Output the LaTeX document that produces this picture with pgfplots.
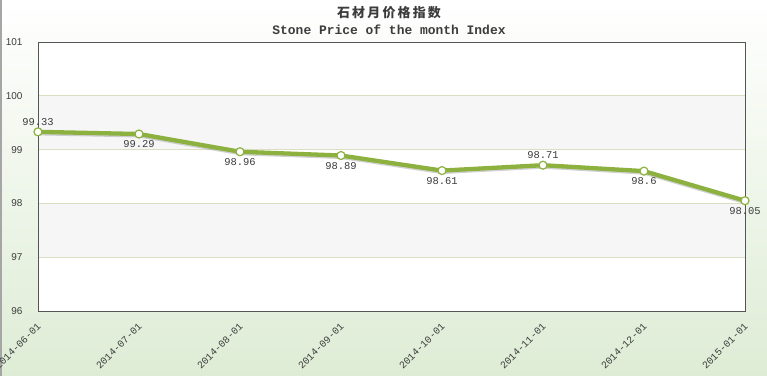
\documentclass[border=0pt]{standalone}
\usepackage{pgfplots}
\pgfplotsset{compat=1.18}
\usepackage{pgfplotstable}
\usepackage{fontspec}
\setmainfont{Liberation Sans}
\newfontfamily\monofont{Liberation Mono}
\newfontfamily\cjk{Noto Sans CJK SC}
\definecolor{linegreen}{RGB}{140,177,63}
\definecolor{bggreen}{RGB}{222,236,213}
\definecolor{band}{RGB}{246,246,246}
\definecolor{gridc}{RGB}{218,222,195}
\definecolor{axisc}{RGB}{85,85,85}
\definecolor{txt}{RGB}{60,60,60}
\pgfplotstableread{
x y lab
0 99.33 99.33
1 99.29 99.29
2 98.96 98.96
3 98.89 98.89
4 98.61 98.61
5 98.71 98.71
6 98.6 98.6
7 98.05 98.05
}\mydata
\pgfplotstableread{
x y lab
0 99.33 99.33
5 98.71 98.71
}\labup
\pgfplotstableread{
x y lab
1 99.29 99.29
2 98.96 98.96
3 98.89 98.89
4 98.61 98.61
6 98.6 98.6
7 98.05 98.05
}\labdown
\begin{document}
\begin{tikzpicture}
\shade[top color=white, bottom color=bggreen] (0bp,0bp) rectangle (767bp,376bp);
\draw[gray!70, line width=1.5bp] (0.75bp,0bp) -- (0.75bp,376bp);
\fill[white] (38bp,65bp) rectangle (745bp,334bp);
\fill[band] (38bp,226.4bp) rectangle (745bp,280.2bp);
\fill[band] (38bp,118.8bp) rectangle (745bp,172.6bp);
\node[font=\cjk\bfseries\fontsize{13}{15}\selectfont, text=txt] at (389bp,363bp) {石\hspace{2.2bp}材\hspace{2.2bp}月\hspace{2.2bp}价\hspace{2.2bp}格\hspace{2.2bp}指\hspace{2.2bp}数};
\node[font=\monofont\bfseries\fontsize{13}{15}\selectfont, text=txt] at (389bp,346bp) {Stone Price of the month Index};
\begin{axis}[scale only axis, width=707bp, height=269bp,
  at={(38bp,65bp)}, anchor=south west,
  xmin=0, xmax=7, ymin=96, ymax=101, ytick={96,97,...,101}, xtick={0,...,7},
  xticklabels={2014-06-01,2014-07-01,2014-08-01,2014-09-01,2014-10-01,2014-11-01,2014-12-01,2015-01-01},
  axis line style={axisc, line width=1bp}, major tick length=0pt,
  ymajorgrids, grid style={gridc, line width=0.8bp},
  /pgf/number format/assume math mode=true,
  yticklabel style={font=\fontsize{10}{12}\selectfont, text=txt, anchor=east, xshift=-12bp},
  xticklabel style={font=\monofont\fontsize{10}{12}\selectfont, text=txt, rotate=45, anchor=north east, inner sep=1bp, yshift=-6bp, xshift=-8bp},
  clip=false,
  lab/.style={draw=none, mark=none, nodes near coords, point meta=explicit symbolic,
    every node near coord/.append style={anchor=#1, font=\monofont\fontsize{10.5}{12}\selectfont, text=txt, inner sep=6.5bp}},
]
\addplot[black!40, opacity=0.45, line width=3bp, yshift=-2bp, forget plot] table[x=x,y=y]{\mydata};
\addplot[linegreen, line width=4.3bp, mark=*, mark size=4bp,
  mark options={fill=white, draw=linegreen, line width=1.2bp}]
  table[x=x,y=y]{\mydata};
\addplot[lab=south] table[x=x,y=y,meta=lab]{\labup};
\addplot[lab=north] table[x=x,y=y,meta=lab]{\labdown};
\end{axis}
\pgfresetboundingbox
\path[use as bounding box] (0bp,0bp) rectangle (767bp,376bp);
\end{tikzpicture}
\end{document}
